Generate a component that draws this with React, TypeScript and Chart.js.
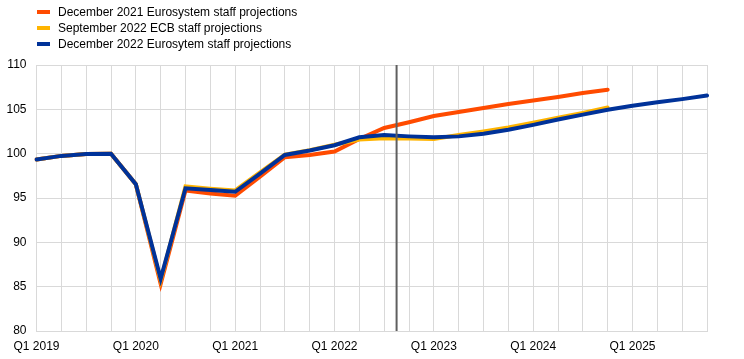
import React, { useEffect, useRef } from "react";
import { Chart, registerables } from "chart.js";

Chart.register(...registerables);

const quarterLabels: string[] = [
  "Q1 2019", "Q2 2019", "Q3 2019", "Q4 2019",
  "Q1 2020", "Q2 2020", "Q3 2020", "Q4 2020",
  "Q1 2021", "Q2 2021", "Q3 2021", "Q4 2021",
  "Q1 2022", "Q2 2022", "Q3 2022", "Q4 2022",
  "Q1 2023", "Q2 2023", "Q3 2023", "Q4 2023",
  "Q1 2024", "Q2 2024", "Q3 2024", "Q4 2024",
  "Q1 2025", "Q2 2025", "Q3 2025", "Q4 2025",
];

const dec2021: number[] = [
  99.35, 99.75, 99.95, 100.0, 96.55, 85.3, 95.85, 95.5, 95.25, 97.4,
  99.6, 99.85, 100.25, 101.65, 102.9, 103.55, 104.25, 104.7, 105.15, 105.6,
  106.0, 106.4, 106.85, 107.2,
];

const sep2022: number[] = [
  99.35, 99.75, 99.95, 100.0, 96.55, 85.7, 96.3, 96.05, 95.85, 97.9,
  99.9, 100.4, 101.0, 101.6, 101.75, 101.7, 101.65, 102.1, 102.5, 102.95,
  103.5, 104.05, 104.6, 105.2,
];

const dec2022: number[] = [
  99.35, 99.75, 99.95, 100.0, 96.55, 85.9, 96.1, 95.9, 95.7, 97.75,
  99.85, 100.35, 100.95, 101.85, 102.1, 101.95, 101.85, 101.95, 102.25, 102.7,
  103.25, 103.85, 104.4, 104.95, 105.4, 105.8, 106.15, 106.55,
];

const seriesNames: string[] = [
  "December 2021 Eurosystem staff projections",
  "September 2022 ECB staff projections",
  "December 2022 Eurosytem staff projections",
];
const seriesColors: string[] = ["#FF4B00", "#FFB400", "#003299"];

const yMin = 80;
const yMax = 110;
const yStep = 5;
// Position (in category index units) of the vertical cut-off line, between Q3 and Q4 2022
const cutoffIndex = 14.5;

const FONT = "'Liberation Sans', Arial, sans-serif";

const cutoffPlugin = {
  id: "cutoffLine",
  afterDatasetsDraw(chart: any) {
    const { ctx, chartArea, scales } = chart;
    const x = scales.x.getPixelForValue(cutoffIndex);
    ctx.save();
    ctx.strokeStyle = "#5f5f5f";
    ctx.lineWidth = 2;
    ctx.beginPath();
    ctx.moveTo(x, chartArea.top);
    ctx.lineTo(x, chartArea.bottom);
    ctx.stroke();
    ctx.restore();
  },
};

export default function App() {
  const canvasRef = useRef<HTMLCanvasElement | null>(null);

  useEffect(() => {
    if (!canvasRef.current) return;
    const datasets = [dec2021, sep2022, dec2022].map((d, i) => ({
      label: seriesNames[i],
      data: d,
      borderColor: seriesColors[i],
      backgroundColor: seriesColors[i],
      borderWidth: 4,
      pointRadius: 0,
      pointHoverRadius: 0,
      tension: 0,
      fill: false,
      borderCapStyle: "round" as const,
      order: 3 - i,
    }));
    const chart = new Chart(canvasRef.current, {
      type: "line",
      data: { labels: quarterLabels, datasets },
      options: {
        animation: false,
        responsive: false,
        devicePixelRatio: 1,
        layout: { padding: { top: 65, right: 37, left: 0, bottom: 0 } },
        plugins: { legend: { display: false }, tooltip: { enabled: false } },
        scales: {
          x: {
            offset: false,
            grid: { color: "#d9d9d9", lineWidth: 1, drawTicks: false },
            border: { color: "#d9d9d9" },
            ticks: {
              autoSkip: false,
              maxRotation: 0,
              minRotation: 0,
              padding: 8,
              color: "#000",
              font: { family: FONT, size: 12 },
              callback: (_v: any, idx: number) =>
                quarterLabels[idx].startsWith("Q1") ? quarterLabels[idx] : "",
            },
            afterFit: (s: any) => {
              s.height = 28;
            },
          },
          y: {
            min: yMin,
            max: yMax,
            grid: { color: "#d9d9d9", lineWidth: 1, drawTicks: false },
            border: { color: "#d9d9d9" },
            ticks: {
              stepSize: yStep,
              padding: 10,
              color: "#000",
              font: { family: FONT, size: 12 },
            },
            afterFit: (s: any) => {
              s.width = 36.5;
            },
          },
        },
      },
      plugins: [cutoffPlugin],
    });
    return () => chart.destroy();
  }, []);

  const legendCenters = [11.7, 27.7, 44];

  return (
    <div
      style={{
        position: "fixed",
        left: 0,
        top: 0,
        width: 744,
        height: 359,
        background: "#fff",
        fontFamily: FONT,
      }}
    >
      <canvas
        ref={canvasRef}
        width={744}
        height={359}
        style={{ position: "absolute", left: 0, top: 0, width: 744, height: 359 }}
      />
      {seriesNames.map((name, i) => (
        <div
          key={name}
          style={{
            position: "absolute",
            left: 37,
            top: legendCenters[i] - 8,
            height: 16,
            display: "flex",
            alignItems: "center",
            whiteSpace: "nowrap",
          }}
        >
          <div style={{ width: 13, height: 4, background: seriesColors[i], marginRight: 8 }} />
          <span style={{ fontSize: 12, color: "#000", lineHeight: "16px" }}>{name}</span>
        </div>
      ))}
    </div>
  );
}
